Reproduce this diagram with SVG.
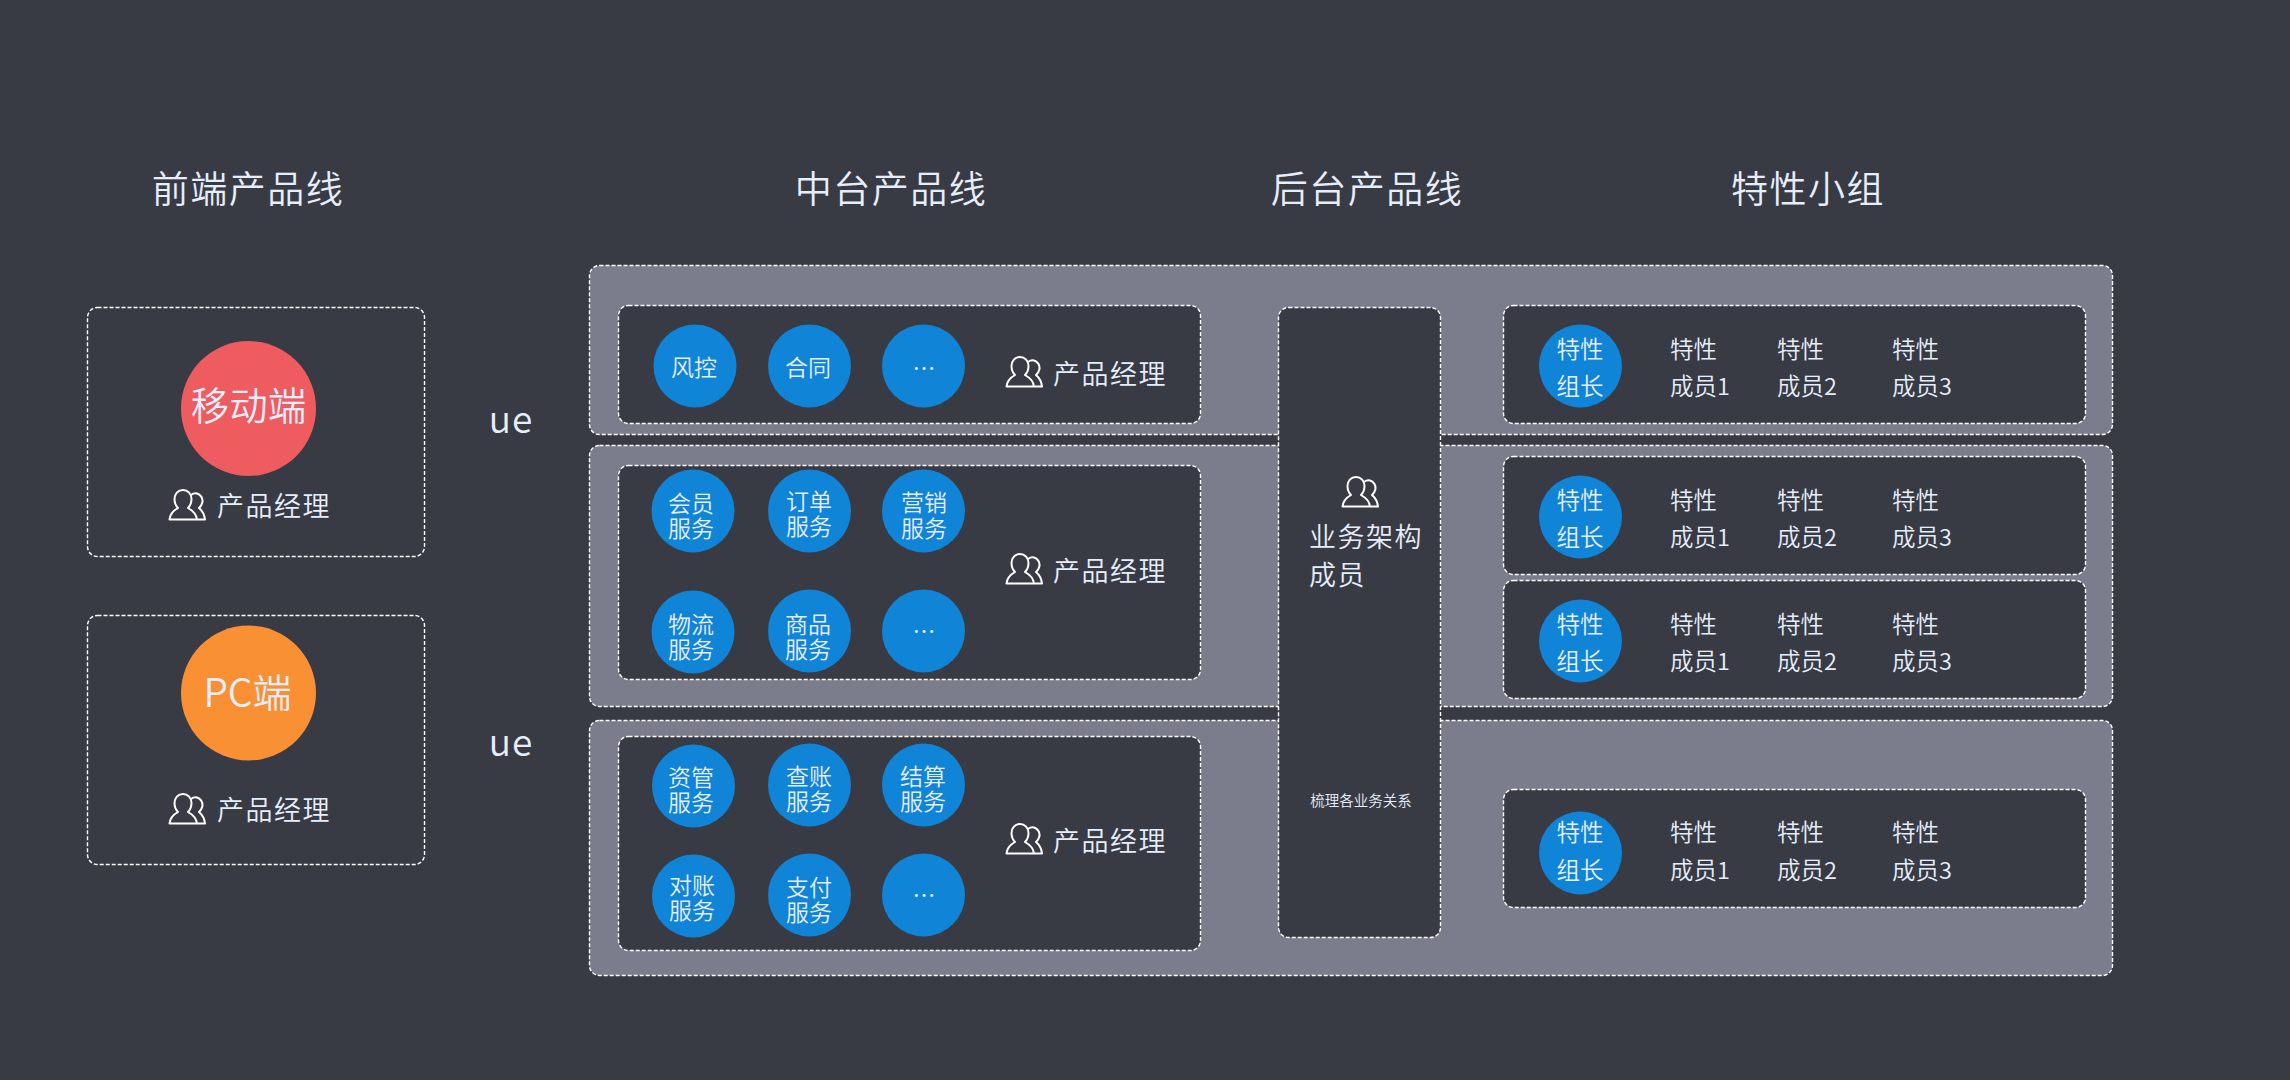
<svg xmlns="http://www.w3.org/2000/svg" width="2290" height="1080" viewBox="0 0 2290 1080">
<defs>
<style>
text{font-family:"Noto Sans CJK SC","Noto Sans",sans-serif;font-weight:350;fill:#e6eefb;text-anchor:middle;dominant-baseline:central}
.d{stroke:#fff;stroke-width:1.4;stroke-dasharray:4 2}
.p{fill:#7b7d8d}.b{fill:#393b44}
.c{fill:#1084d6}
.t{font-size:37px;letter-spacing:1.5px}
.m{font-size:27px;letter-spacing:1.5px}
.s{font-size:23px}
.f{font-size:23.500px}
.ue{font-size:37px;letter-spacing:1px}
.l{text-anchor:start}
</style>
<symbol id="user" viewBox="0 0 37 31" overflow="visible">
<path fill="none" stroke="#fff" stroke-width="2" stroke-linejoin="round" d="M0.500 30.500C1 25 4.500 21.500 9 19C7 17 5.500 13.500 5.500 10C5.500 5 9 1 14 1C19 1 22.500 5 22.500 10C22.500 13.500 21 17 19 19C23.500 21.500 27.500 26 28 30.500ZM22 6C24 4.500 26 4 28 4.500C31.500 5.500 34 9 33.500 13C33 15.500 31.500 17.500 30 19C33 21.500 35.500 26 36 30.500H28"/>
</symbol>
</defs>
<rect width="2290" height="1080" fill="#393b44"/>
<g id="titles">
<text class="t" x="248" y="187">前端产品线</text>
<text class="t" x="891" y="187">中台产品线</text>
<text class="t" x="1367" y="187">后台产品线</text>
<text class="t" x="1808" y="187">特性小组</text>
</g>
<g id="frontend-mobile">
<rect class="b d" x="87.500" y="307.500" width="337" height="249" rx="10"/>
<circle cx="248.500" cy="408.500" r="67.500" fill="#ef5c5f"/>
<text x="248.500" y="403" font-size="38.500">移动端</text>
<use href="#user" x="169" y="489" width="37" height="31"/>
<text class="m" x="274" y="504.500">产品经理</text>
</g>
<g id="frontend-pc">
<rect class="b d" x="87.500" y="615.500" width="337" height="249" rx="10"/>
<circle cx="248.500" cy="693" r="67.500" fill="#f99134"/>
<text x="247.500" y="689.500" font-size="39">PC端</text>
<use href="#user" x="169" y="793" width="37" height="31"/>
<text class="m" x="274" y="808.500">产品经理</text>
</g>
<g id="ue-labels">
<text class="ue" x="511" y="417">ue</text>
<text class="ue" x="511" y="740">ue</text>
</g>
<g id="panels">
<rect class="p d" x="589.500" y="265.500" width="1523" height="169" rx="10"/>
<rect class="p d" x="589.500" y="445.500" width="1523" height="261" rx="10"/>
<rect class="p d" x="589.500" y="720.500" width="1523" height="255" rx="10"/>
</g>
<g id="line-1">
<rect class="b d" x="618.500" y="305.500" width="582" height="118" rx="10"/>
<circle class="c" cx="695" cy="366" r="41.500"/><text class="s" x="694" y="365.500">风控</text>
<circle class="c" cx="809.500" cy="366" r="41.500"/><text class="s" x="808" y="365.500">合同</text>
<circle class="c" cx="923.500" cy="366" r="41.500"/><text class="s" x="924" y="366.500">…</text>
<use href="#user" x="1006" y="356" width="37" height="31"/>
<text class="m" x="1110" y="372">产品经理</text>
</g>
<g id="line-2">
<rect class="b d" x="618.500" y="465.500" width="582" height="214" rx="10"/>
<circle class="c" cx="693" cy="511" r="41.500"/><text class="s" x="691" y="501.500">会员</text><text class="s" x="691" y="527">服务</text>
<circle class="c" cx="809.500" cy="511" r="41.500"/><text class="s" x="809" y="499.500">订单</text><text class="s" x="809" y="525">服务</text>
<circle class="c" cx="923.500" cy="511" r="41.500"/><text class="s" x="924" y="500.500">营销</text><text class="s" x="924" y="527">服务</text>
<circle class="c" cx="693" cy="632" r="41.500"/><text class="s" x="691" y="622.500">物流</text><text class="s" x="691" y="648">服务</text>
<circle class="c" cx="809.500" cy="631" r="41.500"/><text class="s" x="808" y="622.500">商品</text><text class="s" x="808" y="648">服务</text>
<circle class="c" cx="923.500" cy="631" r="41.500"/><text class="s" x="924" y="629.500">…</text>
<use href="#user" x="1006" y="553" width="37" height="31"/>
<text class="m" x="1110" y="569">产品经理</text>
</g>
<g id="line-3">
<rect class="b d" x="618.500" y="736.500" width="582" height="214" rx="10"/>
<circle class="c" cx="693.500" cy="786" r="41.500"/><text class="s" x="691" y="775.500">资管</text><text class="s" x="691" y="801">服务</text>
<circle class="c" cx="809.500" cy="785" r="41.500"/><text class="s" x="809" y="774.500">查账</text><text class="s" x="809" y="800">服务</text>
<circle class="c" cx="923.500" cy="785" r="41.500"/><text class="s" x="923" y="774.500">结算</text><text class="s" x="923" y="800">服务</text>
<circle class="c" cx="693.500" cy="896" r="41.500"/><text class="s" x="692" y="883.500">对账</text><text class="s" x="692" y="909">服务</text>
<circle class="c" cx="809.500" cy="895" r="41.500"/><text class="s" x="809" y="885.500">支付</text><text class="s" x="809" y="911">服务</text>
<circle class="c" cx="923.500" cy="895" r="41.500"/><text class="s" x="924" y="894">…</text>
<use href="#user" x="1006" y="823" width="37" height="31"/>
<text class="m" x="1110" y="839">产品经理</text>
</g>
<g id="architecture">
<rect class="b d" x="1278.500" y="307.500" width="162" height="630" rx="10"/>
<use href="#user" x="1342" y="476" width="37" height="31"/>
<text class="m l" x="1309" y="535">业务架构</text>
<text class="m l" x="1309" y="573">成员</text>
<text x="1361" y="799.500" font-size="14.500">梳理各业务关系</text>
</g>
<g id="team-1">
<rect class="b d" x="1503.500" y="305.500" width="582" height="118" rx="10"/>
<circle class="c" cx="1580.500" cy="366" r="41.500"/>
<text class="f" x="1580" y="348">特性</text><text class="f" x="1580" y="384.500">组长</text>
<text class="f l" x="1670" y="348">特性</text><text class="f l" x="1670" y="384.500">成员1</text>
<text class="f l" x="1777" y="348">特性</text><text class="f l" x="1777" y="384.500">成员2</text>
<text class="f l" x="1892" y="348">特性</text><text class="f l" x="1892" y="384.500">成员3</text>
</g>
<g id="team-2">
<rect class="b d" x="1503.500" y="456.500" width="582" height="118" rx="10"/>
<circle class="c" cx="1580.500" cy="517" r="41.500"/>
<text class="f" x="1580" y="499">特性</text><text class="f" x="1580" y="535.500">组长</text>
<text class="f l" x="1670" y="499">特性</text><text class="f l" x="1670" y="535.500">成员1</text>
<text class="f l" x="1777" y="499">特性</text><text class="f l" x="1777" y="535.500">成员2</text>
<text class="f l" x="1892" y="499">特性</text><text class="f l" x="1892" y="535.500">成员3</text>
</g>
<g id="team-3">
<rect class="b d" x="1503.500" y="580.500" width="582" height="118" rx="10"/>
<circle class="c" cx="1580.500" cy="641" r="41.500"/>
<text class="f" x="1580" y="623">特性</text><text class="f" x="1580" y="659.500">组长</text>
<text class="f l" x="1670" y="623">特性</text><text class="f l" x="1670" y="659.500">成员1</text>
<text class="f l" x="1777" y="623">特性</text><text class="f l" x="1777" y="659.500">成员2</text>
<text class="f l" x="1892" y="623">特性</text><text class="f l" x="1892" y="659.500">成员3</text>
</g>
<g id="team-4">
<rect class="b d" x="1503.500" y="789.500" width="582" height="118" rx="10"/>
<circle class="c" cx="1580.500" cy="853" r="41.500"/>
<text class="f" x="1580" y="831">特性</text><text class="f" x="1580" y="869">组长</text>
<text class="f l" x="1670" y="831">特性</text><text class="f l" x="1670" y="869">成员1</text>
<text class="f l" x="1777" y="831">特性</text><text class="f l" x="1777" y="869">成员2</text>
<text class="f l" x="1892" y="831">特性</text><text class="f l" x="1892" y="869">成员3</text>
</g>
<g id="connectors"/>
</svg>
